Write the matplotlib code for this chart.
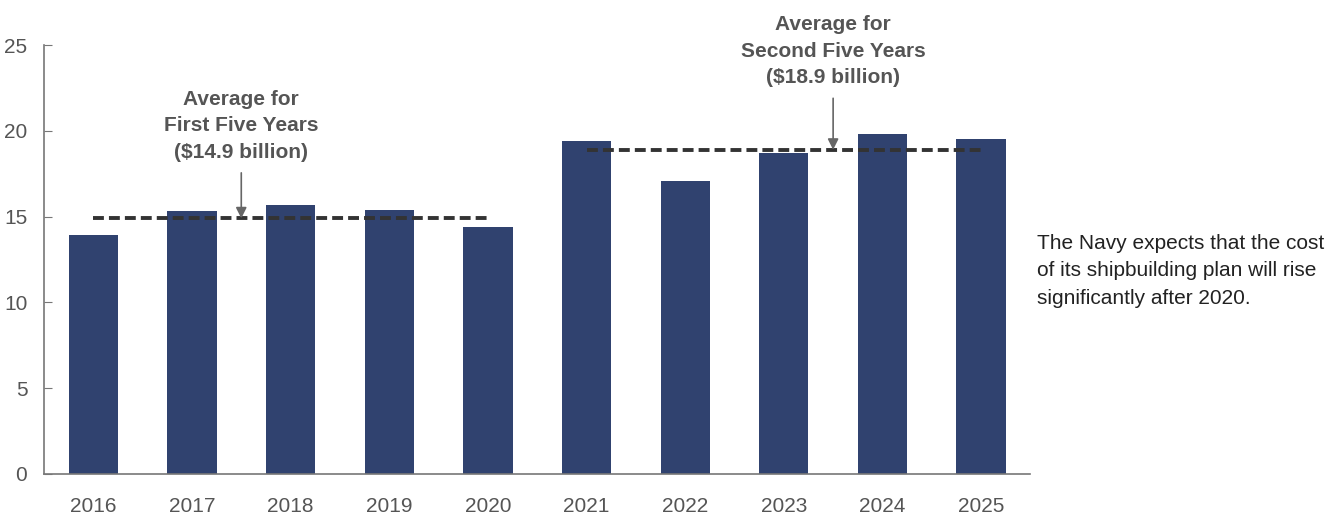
import matplotlib
matplotlib.use('Agg')
import matplotlib.pyplot as plt
import numpy as np

plt.rcParams['font.family'] = ['Liberation Sans', 'DejaVu Sans']

# Navy shipbuilding costs, billions of dollars
years = ['2016', '2017', '2018', '2019', '2020', '2021', '2022', '2023', '2024', '2025']
costs = [13.9, 15.3, 15.7, 15.4, 14.4, 19.4, 17.1, 18.7, 19.8, 19.5]
avg_first = 14.9
avg_second = 18.9

fig = plt.figure(figsize=(13.33, 5.19), dpi=100)
ax = fig.add_axes([0.033, 0.087, 0.74, 0.826])

x = np.arange(len(years))
ax.bar(x, costs, width=0.5, color='#30426F', zorder=2)

# dashed average lines
ax.plot([0, 4], [avg_first, avg_first], color='#333333', lw=2.8, dashes=(2.8, 1.3), zorder=3)
ax.plot([5, 9], [avg_second, avg_second], color='#333333', lw=2.8, dashes=(2.8, 1.3), zorder=3)

ax.set_xlim(-0.5, 9.5)
ax.set_ylim(0, 25)
ax.set_yticks([0, 5, 10, 15, 20, 25])
ax.set_xticks(x)
ax.set_xticklabels(years)

for s in ['top', 'right']:
    ax.spines[s].set_visible(False)
for s in ['left', 'bottom']:
    ax.spines[s].set_color('#777777')
    ax.spines[s].set_linewidth(1.2)
ax.tick_params(axis='y', direction='in', length=6, color='#777777', labelsize=15,
               labelcolor='#555555', pad=12)
ax.tick_params(axis='x', length=0, labelsize=15, labelcolor='#555555', pad=17)

# annotations
ax.annotate('Average for\nFirst Five Years\n($14.9 billion)', xy=(1.5, avg_first),
            xytext=(1.5, 18.2), ha='center', va='bottom', fontsize=15, fontweight='bold',
            color='#555555', linespacing=1.5,
            arrowprops=dict(arrowstyle='-|>', color='#666666', lw=1.2,
                            mutation_scale=16, shrinkA=6, shrinkB=0))
ax.annotate('Average for\nSecond Five Years\n($18.9 billion)', xy=(7.5, avg_second),
            xytext=(7.5, 22.55), ha='center', va='bottom', fontsize=15, fontweight='bold',
            color='#555555', linespacing=1.5,
            arrowprops=dict(arrowstyle='-|>', color='#666666', lw=1.2,
                            mutation_scale=16, shrinkA=6, shrinkB=0))

fig.text(0.778, 0.478, 'The Navy expects that the cost\nof its shipbuilding plan will rise\nsignificantly after 2020.',
         ha='left', va='center', fontsize=15, color='#222222', linespacing=1.55)

fig.savefig('out.png', dpi=100)
